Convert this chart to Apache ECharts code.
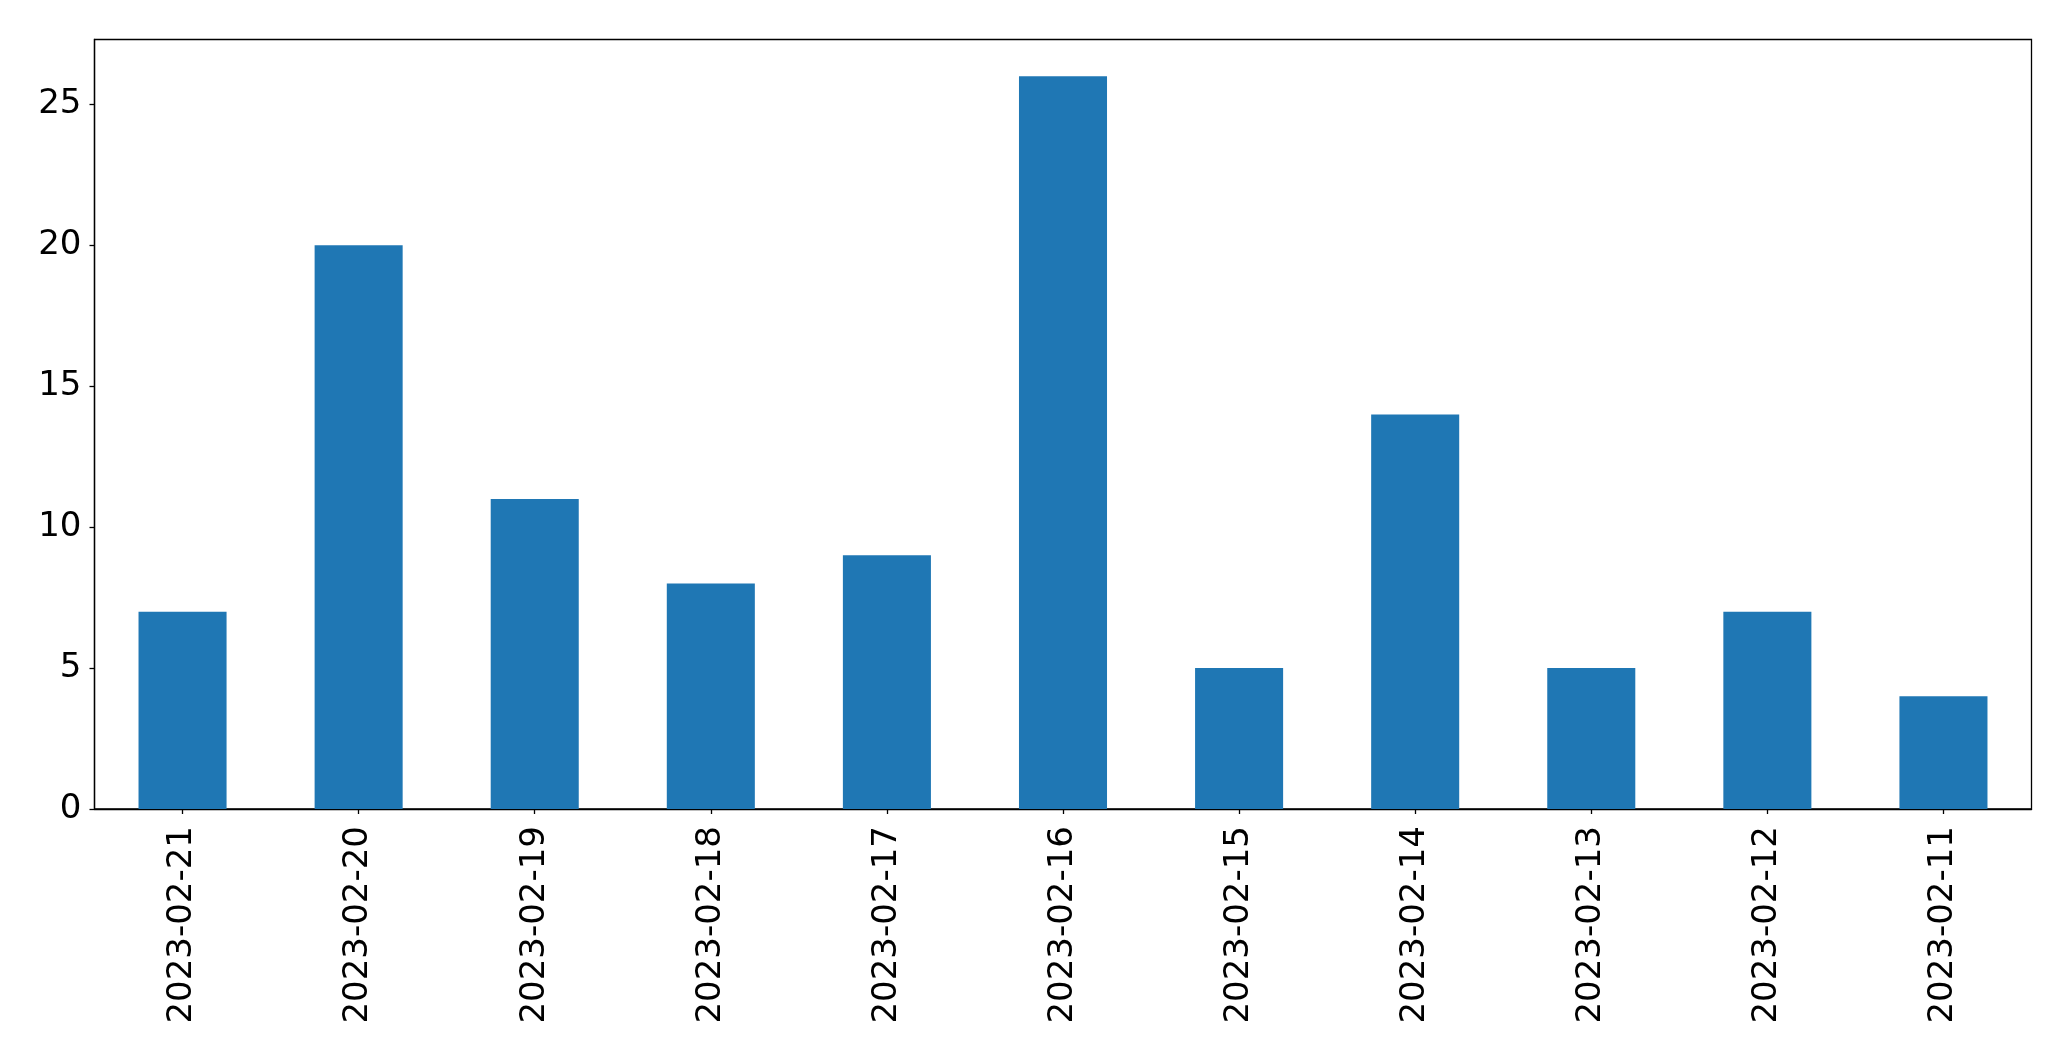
<!DOCTYPE html>
<html><head><meta charset="utf-8">
<script src="https://cdn.jsdelivr.net/npm/echarts@6/dist/echarts.min.js"></script>
<style>html,body{margin:0;padding:0;background:#fff}#c{width:2071px;height:1061px}</style>
</head><body><div id="c"></div>
<script>
const categories = ["2023-02-21","2023-02-20","2023-02-19","2023-02-18","2023-02-17","2023-02-16","2023-02-15","2023-02-14","2023-02-13","2023-02-12","2023-02-11"];
const values = [7,20,11,8,9,26,5,14,5,7,4];
const yTicks = [0,5,10,15,20,25];

const chart = echarts.init(document.getElementById('c'), null, {renderer:'canvas'});
const font = 'DejaVu Sans';
chart.setOption({
  animation:false,
  grid:{left:94.5,right:39.5,top:39.5,bottom:252,show:true,borderColor:'#000',borderWidth:1.3,backgroundColor:'transparent'},
  xAxis:{type:'category',data:categories,
    axisLine:{show:true,lineStyle:{color:'#000',width:1.3}},
    axisTick:{show:true,alignWithLabel:true,length:5,lineStyle:{color:'#000',width:1.3}},
    axisLabel:{rotate:90,margin:17,fontFamily:font,fontSize:34,color:'#000',interval:0},
    splitLine:{show:false}},
  yAxis:{type:'value',min:0,max:27.3,interval:5,
    axisLine:{show:true,lineStyle:{color:'#000',width:1.3}},
    axisTick:{show:true,length:5,lineStyle:{color:'#000',width:1.3}},
    axisLabel:{margin:13,fontFamily:font,fontSize:34,color:'#000',showMaxLabel:false,
      formatter:v=>yTicks.includes(v)?String(v):''},
    splitLine:{show:false}},
  series:[{type:'bar',data:values,barWidth:'50%',itemStyle:{color:'#1f77b4'}}]
});
</script></body></html>
